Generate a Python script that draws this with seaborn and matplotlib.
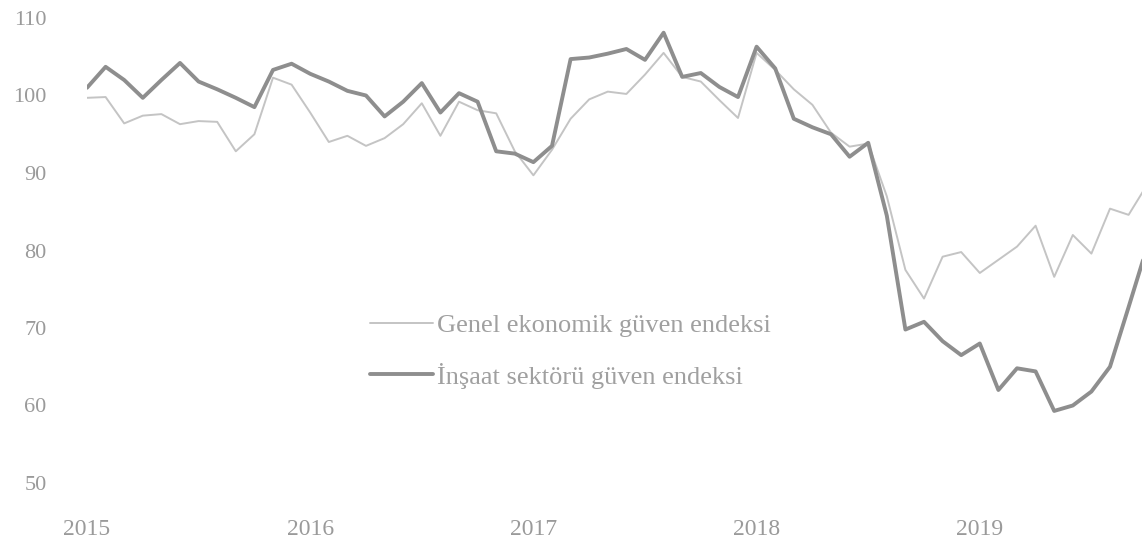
import matplotlib
matplotlib.use("Agg")
import matplotlib.pyplot as plt
import seaborn as sns
import pandas as pd

# ---- data (monthly, Jan 2015 onward) ----
genel = [99.7, 99.8, 96.4, 97.4, 97.6, 96.3, 96.7, 96.6, 92.8, 95.0,
         102.3, 101.4, 97.8, 94.0, 94.8, 93.5, 94.5, 96.3, 99.0, 94.8,
         99.2, 98.1, 97.7, 92.8, 89.7, 93.0, 97.0, 99.5, 100.5, 100.2,
         102.7, 105.5, 102.4, 101.8, 99.4, 97.1, 105.5, 103.3, 100.8, 98.8,
         95.2, 93.4, 93.8, 87.0, 77.5, 73.8, 79.2, 79.8, 77.1, 78.8,
         80.5, 83.2, 76.6, 82.0, 79.6, 85.4, 84.6, 88.5]
insaat = [101.0, 103.7, 102.0, 99.7, 102.0, 104.2, 101.8, 100.8, 99.7, 98.5,
          103.3, 104.1, 102.8, 101.8, 100.6, 100.0, 97.3, 99.2, 101.6, 97.8,
          100.3, 99.2, 92.8, 92.5, 91.4, 93.5, 104.7, 104.9, 105.4, 106.0,
          104.6, 108.1, 102.4, 102.9, 101.1, 99.8, 106.3, 103.5, 97.0, 95.9,
          95.0, 92.1, 93.9, 84.5, 69.8, 70.8, 68.3, 66.5, 68.0, 62.0,
          64.8, 64.4, 59.3, 60.0, 61.8, 65.0, 72.7, 80.5]
series_names = ["Genel ekonomik güven endeksi", "İnşaat sektörü güven endeksi"]
year_labels = ["2015", "2016", "2017", "2018", "2019"]
y_ticks = [50, 60, 70, 80, 90, 100, 110]

month = list(range(len(genel)))
df = pd.DataFrame({"ay": month, "genel": genel, "insaat": insaat})

sns.set_theme(style="white")
plt.rcParams["font.family"] = ["Liberation Serif", "DejaVu Serif"]

W, H = 1142, 553
fig = plt.figure(figsize=(W / 100, H / 100), dpi=100)
left, right, top, bottom = 87, 1142, 18, 483
ax = fig.add_axes([left / W, 1 - bottom / H, (right - left) / W, (bottom - top) / H])

sns.lineplot(data=df, x="ay", y="genel", ax=ax, color="#c4c4c4", linewidth=1.4,
             label=series_names[0])
sns.lineplot(data=df, x="ay", y="insaat", ax=ax, color="#8e8e8e", linewidth=2.8,
             label=series_names[1])

ax.set_xlim(0, (right - left) / 18.6)
ax.set_ylim(50, 110)
ax.set_xticks([0, 12, 24, 36, 48])
ax.set_xticklabels(year_labels)
ax.set_yticks(y_ticks)
ax.set_xlabel("")
ax.set_ylabel("")
for s in ax.spines.values():
    s.set_visible(False)
ax.tick_params(axis="x", length=0, pad=26, labelsize=17, labelcolor="#9a9a9a")
ax.tick_params(axis="y", length=0, pad=29, labelsize=16, labelcolor="#9a9a9a")

leg = ax.legend(loc="center left", bbox_to_anchor=(370 / W, 1 - 351 / H),
                bbox_transform=fig.transFigure, frameon=False, fontsize=19,
                borderpad=0, borderaxespad=0, handlelength=2.4,
                handletextpad=0.15, labelspacing=0.98)
for t in leg.get_texts():
    t.set_color("#a0a0a0")

fig.savefig("out.png", dpi=100)
